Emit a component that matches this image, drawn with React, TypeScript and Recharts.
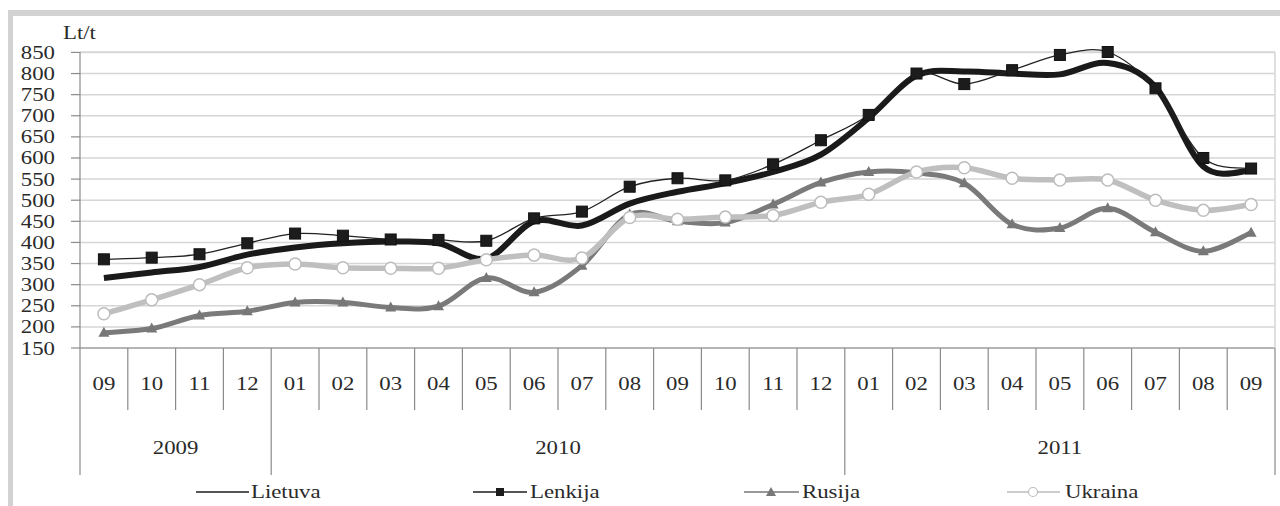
import React from 'react';
import { LineChart, Line, XAxis, YAxis, CartesianGrid, Legend } from 'recharts';

// months 2009-09 .. 2011-09
const months = [
  '09', '10', '11', '12',
  '01', '02', '03', '04', '05', '06', '07', '08', '09', '10', '11', '12',
  '01', '02', '03', '04', '05', '06', '07', '08', '09',
];
const yearLabels = ['2009', '2010', '2011'];
const yearSizes = [4, 12, 9];
const yTicks = [150, 200, 250, 300, 350, 400, 450, 500, 550, 600, 650, 700, 750, 800, 850];

const lietuva = [316, 329, 342, 371, 388, 398, 402, 398, 362, 450, 440, 492, 520, 540, 567, 608, 695, 795, 805, 800, 798, 825, 768, 580, 570];
const lenkija = [360, 364, 372, 398, 421, 416, 407, 406, 404, 457, 473, 532, 552, 547, 585, 642, 702, 800, 775, 808, 844, 851, 765, 600, 575];
const rusija = [186, 196, 227, 237, 258, 258, 246, 249, 316, 282, 345, 466, 450, 447, 490, 542, 567, 565, 540, 443, 434, 481, 424, 379, 423];
const ukraina = [231, 264, 300, 340, 349, 340, 339, 339, 359, 370, 363, 459, 455, 460, 464, 495, 514, 567, 577, 552, 548, 548, 500, 476, 490];

const data = months.map((m, i) => ({
  month: m,
  Lietuva: lietuva[i],
  Lenkija: lenkija[i],
  Rusija: rusija[i],
  Ukraina: ukraina[i],
}));

const yearStarts = yearSizes.map((_, i) => yearSizes.slice(0, i).reduce((a, b) => a + b, 0));

const BAND = 1195 / months.length;
const FONT = '"Liberation Serif", "Times New Roman", serif';
const TEXT = '#2a2a2a';
const AXIS = '#8a8a8a';

// the scan is stretched sideways a bit, so is the text
function SText({ x, y, anchor = 'middle', children }: any) {
  return (
    <text
      transform={`translate(${x} ${y}) scale(1.2 1)`}
      textAnchor={anchor}
      fontFamily={FONT}
      fontSize={19}
      fill={TEXT}
    >
      {children}
    </text>
  );
}

// excel-like smoothing (catmull-rom as bezier)
const smoothCurve: any = (context: any) => {
  let pts: number[][] = [];
  return {
    areaStart() {},
    areaEnd() {},
    lineStart() {
      pts = [];
    },
    point(x: number, y: number) {
      pts.push([+x, +y]);
    },
    lineEnd() {
      if (!pts.length) return;
      context.moveTo(pts[0][0], pts[0][1]);
      for (let i = 0; i < pts.length - 1; i++) {
        const p0 = pts[Math.max(i - 1, 0)];
        const p1 = pts[i];
        const p2 = pts[i + 1];
        const p3 = pts[Math.min(i + 2, pts.length - 1)];
        context.bezierCurveTo(
          p1[0] + (p2[0] - p0[0]) / 6,
          p1[1] + (p2[1] - p0[1]) / 6,
          p2[0] - (p3[0] - p1[0]) / 6,
          p2[1] - (p3[1] - p1[1]) / 6,
          p2[0],
          p2[1]
        );
      }
    },
  };
};

const MonthTick = (props: any) => {
  const { x, y, index, payload } = props;
  const left = x - BAND / 2;
  const g = yearStarts.indexOf(index);
  const last = index === months.length - 1;
  return (
    <g>
      <line x1={left} x2={left} y1={y} y2={y + (g >= 0 ? 127 : 62)} stroke={AXIS} strokeWidth={1.2} />
      {last && <line x1={x + BAND / 2} x2={x + BAND / 2} y1={y} y2={y + 127} stroke={AXIS} strokeWidth={1.2} />}
      <SText x={x} y={y + 41.5}>{payload.value}</SText>
      {g >= 0 && (
        <SText x={left + (yearSizes[g] * BAND) / 2} y={y + 105.5}>
          {yearLabels[g]}
        </SText>
      )}
    </g>
  );
};

const ValueTick = (props: any) => {
  const { x, y, payload } = props;
  return (
    <SText x={x} y={y + 6.5} anchor="end">
      {payload.value}
    </SText>
  );
};

const SquareDot = (props: any) => {
  const { cx, cy, index } = props;
  return <rect key={`sq-${index}`} x={cx - 5.5} y={cy - 5.5} width={11} height={11} fill="#1c1c1c" stroke="#111" strokeWidth={1} />;
};

const TriangleDot = (props: any) => {
  const { cx, cy, index } = props;
  return (
    <polygon
      key={`tr-${index}`}
      points={`${cx},${cy - 6} ${cx - 5.5},${cy + 4} ${cx + 5.5},${cy + 4}`}
      fill="#777"
    />
  );
};

const CircleDot = (props: any) => {
  const { cx, cy, index } = props;
  return <circle key={`ci-${index}`} cx={cx} cy={cy} r={6} fill="#fff" stroke="#bdbdbd" strokeWidth={1.5} />;
};

const LegendBox = () => (
  <svg width={1280} height={28} style={{ display: 'block' }}>
    <line x1={196} x2={249} y1={14} y2={14} stroke="#1c1c1c" strokeWidth={1.5} />
    <SText x={251} y={20} anchor="start">Lietuva</SText>

    <line x1={473} x2={527} y1={14} y2={14} stroke="#1c1c1c" strokeWidth={1.5} />
    <rect x={496} y={10} width={8} height={8} fill="#1c1c1c" />
    <SText x={530} y={20} anchor="start">Lenkija</SText>

    <line x1={744} x2={799} y1={14} y2={14} stroke="#777" strokeWidth={1.5} />
    <polygon points="771,9 766,18 776,18" fill="#777" />
    <SText x={802} y={20} anchor="start">Rusija</SText>

    <line x1={1007} x2={1060} y1={14} y2={14} stroke="#bdbdbd" strokeWidth={1.5} />
    <circle cx={1033} cy={14} r={4.5} fill="#fff" stroke="#bdbdbd" strokeWidth={1.2} />
    <SText x={1065} y={20} anchor="start">Ukraina</SText>
  </svg>
);

export default function App() {
  return (
    <div style={{ position: 'absolute', left: 0, top: 0, width: 1280, height: 506, background: '#fff' }}>
      {/* grey frame of the scanned figure */}
      <div style={{ position: 'absolute', left: 8, top: 10, width: 1272, height: 6, background: '#d2d2d2' }} />
      <div style={{ position: 'absolute', left: 8, top: 10, width: 5, height: 496, background: '#d2d2d2' }} />
      <div style={{ position: 'absolute', left: 0, top: 0 }}>
        <LineChart width={1280} height={506} data={data} margin={{ top: 52, right: 0, bottom: 0, left: 0 }}>
          <CartesianGrid vertical={false} stroke="#d6d6d6" strokeWidth={1.5} />
          <XAxis
            dataKey="month"
            interval={0}
            height={158}
            padding={{ left: BAND / 2, right: BAND / 2 }}
            tickSize={0}
            tickMargin={0}
            tickLine={false}
            axisLine={{ stroke: AXIS, strokeWidth: 1.2 }}
            tick={<MonthTick />}
          />
          <YAxis
            width={80}
            domain={[150, 850]}
            ticks={yTicks}
            interval={0}
            tickSize={9}
            tickMargin={16}
            tickLine={{ stroke: AXIS, strokeWidth: 1.2 }}
            axisLine={{ stroke: AXIS, strokeWidth: 1.2 }}
            tick={<ValueTick />}
            label={() => (
              <SText x={63} y={39} anchor="start">
                Lt/t
              </SText>
            )}
          />
          <YAxis yAxisId="right" orientation="right" width={5} tick={false} tickLine={false} axisLine={{ stroke: '#d6d6d6', strokeWidth: 1.5 }} />
          <Legend
            verticalAlign="middle"
            align="center"
            layout="horizontal"
            wrapperStyle={{ left: 0, top: 478, width: 1280, height: 28 }}
            content={() => <LegendBox />}
          />
          <Line
            dataKey="Lietuva"
            type={smoothCurve}
            stroke="#1a1a1a"
            strokeWidth={6}
            dot={false}
            activeDot={false}
            isAnimationActive={false}
          />
          <Line
            dataKey="Rusija"
            type={smoothCurve}
            stroke="#7a7a7a"
            strokeWidth={5}
            dot={<TriangleDot />}
            activeDot={false}
            isAnimationActive={false}
          />
          <Line
            dataKey="Ukraina"
            type={smoothCurve}
            stroke="#bfbfbf"
            strokeWidth={5.5}
            dot={<CircleDot />}
            activeDot={false}
            isAnimationActive={false}
          />
          <Line
            dataKey="Lenkija"
            type={smoothCurve}
            stroke="#222"
            strokeWidth={1.3}
            dot={<SquareDot />}
            activeDot={false}
            isAnimationActive={false}
          />
        </LineChart>
      </div>
    </div>
  );
}
